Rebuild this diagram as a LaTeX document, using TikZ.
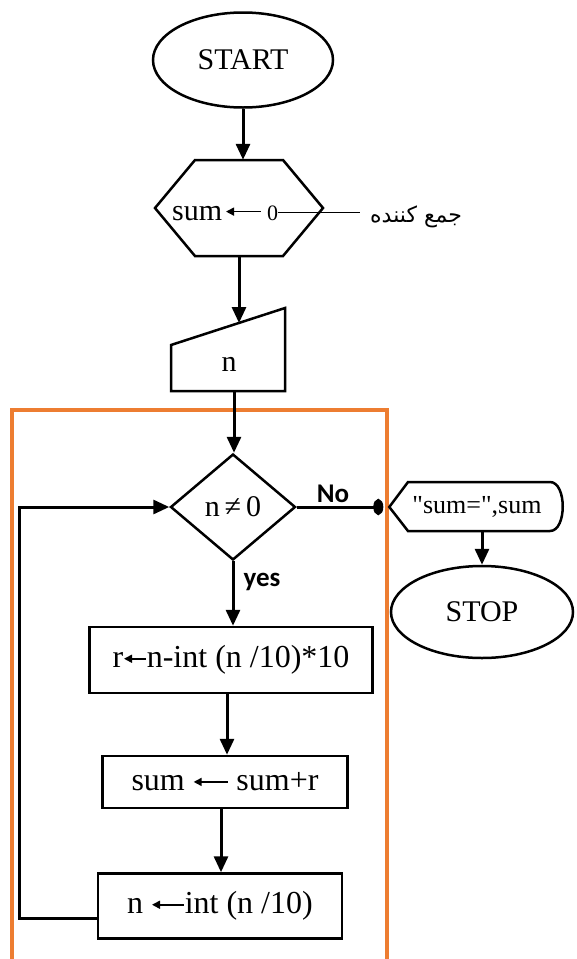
\documentclass[tikz,border=0pt]{standalone}
\usepackage{fontspec}
\setmainfont{Liberation Serif}
\newfontfamily\labelfont{Carlito}
\newfontfamily\arabicfont[Script=Arabic]{DejaVu Sans}
\TeXXeTstate=1
\usepackage{tikz}
\usetikzlibrary{arrows.meta}
\usetikzlibrary{shapes.geometric}
\definecolor{looporange}{HTML}{ED7D31}
\newcommand{\getsto}[1]{\tikz[baseline=-0.28em]\draw[line width=1.6pt,{Triangle[length=8pt,width=8pt]}-](0pt,0pt)--(#1,0pt);}
\tikzset{
    flow/.style={draw, line width=2.5pt, inner sep=0pt, font=\fontsize{30}{36}\selectfont},
    stepbox/.style={flow, rectangle, font=\fontsize{32}{38}\selectfont},
    arr/.style={line width=3pt, -{Triangle[length=16pt,width=14pt]}},
    tag/.style={font=\labelfont\bfseries\fontsize{27}{32}\selectfont},
}

\begin{document}
\begin{tikzpicture}[x=1pt,y=-1pt]
        \useasboundingbox (0,0) rectangle (577,959);
        \clip (0,0) rectangle (577,959);
        \fill[white] (0,0) rectangle (577,959);
        \draw[looporange, line width=4.5pt](12,410) rectangle (387,990);
        \node[flow, ellipse, minimum width=180pt, minimum height=95pt] (start) at (243,60) {START};
        \node[inner sep=0pt, minimum width=168pt, minimum height=96pt] (init) at (239,208) {};
        \draw[line width=2.5pt](155,208)--(195,160)--(283,160)--(323,208)--(283,256)--(195,256)--cycle;
        \node[anchor=base west, inner sep=0pt, font=\fontsize{30}{36}\selectfont] (sumzero) at (172,220) {sum\hspace{3pt}\getsto{35pt}};
        \node[anchor=base west, inner sep=0pt, font=\fontsize{22}{26}\selectfont] (zero) at (267,220) {0};
        \node[anchor=base west, inner sep=0pt, font=\arabicfont\fontsize{22}{26}\selectfont] (acc) at (370,222) {\beginR جمع كننده\endR};
        \draw[line width=1.2pt, shorten >=10pt](zero.east)--(zero.east -| acc.west);
        \draw[line width=2.5pt](171,345)--(285,308)--(285,391)--(171,391)--cycle;
        \node[font=\fontsize{30}{36}\selectfont] (n) at (229,364) {n};
        \coordinate (inptop) at (239,323);
        \coordinate (inpbot) at (234,391);
        \node[flow, diamond, minimum width=125pt, minimum height=106pt] (cond) at (233,507) {n\,≠\,0};
        \node[inner sep=0pt, minimum width=175pt, minimum height=49pt, font=\fontsize{26}{30}\selectfont] (out) at (477,507) {\textquotedbl sum=\textquotedbl,sum};
        \draw[line width=2.5pt](out.west)--(408,482)--(550,482) .. controls (567,482) and (567,531) .. (550,531)--(408,531)--cycle;
        \node[flow, ellipse, minimum width=182pt, minimum height=92pt] (stop) at (482,612) {STOP};
        \node[stepbox, minimum width=283pt, minimum height=66pt] (digit) at (231,660) {r\getsto{22pt}n-int (n /10)*10};
        \node[stepbox, minimum width=245pt, minimum height=52pt] (add) at (225,782) {sum \getsto{34pt} sum+r};
        \node[stepbox, minimum width=244pt, minimum height=65pt] (cut) at (220,906) {n \getsto{32pt}int (n /10)};
        \node[tag] (no) at (333,494) {No};
        \node[tag] (yes) at (262,582) {yes};
        \draw[arr](start.south)--(start.south |- init.north);
        \draw[arr](init.south)--(inptop);
        \draw[arr](inpbot)--(inpbot |- cond.north);
        \draw[line width=3pt, -{Ellipse[length=10pt,width=16pt]}, shorten >=6pt](cond.east)--(out.west);
        \draw[arr](out.south -| stop.north)--(stop.north);
        \draw[arr](cond.south)--(cond.south |- digit.north);
        \draw[arr]([xshift=-4pt]digit.south)--([xshift=-4pt]digit.south |- add.north);
        \draw[arr]([xshift=-4pt]add.south)--([xshift=-4pt]add.south |- cut.north);
        \draw[arr]([yshift=-12pt]cut.west)--++(-77,0) |- (cond.west);
\end{tikzpicture}
\end{document}
